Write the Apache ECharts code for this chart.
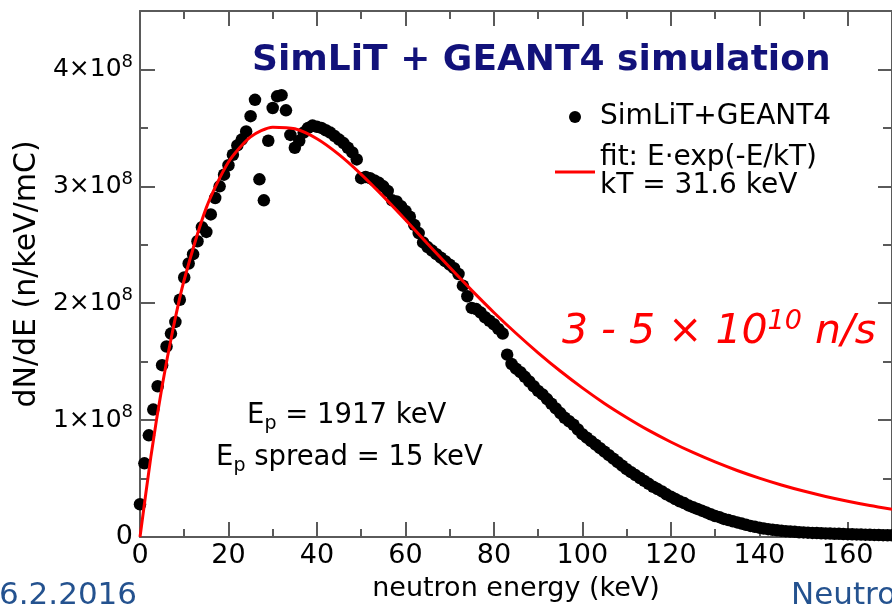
<!DOCTYPE html>
<html>
<head>
<meta charset="utf-8">
<script src="https://cdn.jsdelivr.net/npm/echarts@6/dist/echarts.min.js"></script>
<style>
  html, body { margin: 0; padding: 0; background: #fff; }
  #chart { width: 892px; height: 607px; }
</style>
</head>
<body>
<div id="chart"></div>
<script>
// Simulated neutron spectrum (1 keV bins), dN/dE in units of 10^8 n/keV/mC
const energy = [
  0, 1, 2, 3, 4, 5, 6, 7, 8, 9, 10, 11, 12, 13, 14, 15, 16, 17, 18, 19,
  20, 21, 22, 23, 24, 25, 26, 27, 28, 29, 30, 31, 32, 33, 34, 35, 36, 37, 38, 39,
  40, 41, 42, 43, 44, 45, 46, 47, 48, 49, 50, 51, 52, 53, 54, 55, 56, 57, 58, 59,
  60, 61, 62, 63, 64, 65, 66, 67, 68, 69, 70, 71, 72, 73, 74, 75, 76, 77, 78, 79,
  80, 81, 82, 83, 84, 85, 86, 87, 88, 89, 90, 91, 92, 93, 94, 95, 96, 97, 98, 99,
  100, 101, 102, 103, 104, 105, 106, 107, 108, 109, 110, 111, 112, 113, 114, 115, 116, 117, 118, 119,
  120, 121, 122, 123, 124, 125, 126, 127, 128, 129, 130, 131, 132, 133, 134, 135, 136, 137, 138, 139,
  140, 141, 142, 143, 144, 145, 146, 147, 148, 149, 150, 151, 152, 153, 154, 155, 156, 157, 158, 159,
  160, 161, 162, 163, 164, 165, 166, 167, 168, 169, 170
];
const counts = [
  0.28, 0.63, 0.87, 1.09, 1.29, 1.47, 1.63, 1.74, 1.84, 2.03, 2.22, 2.34, 2.42, 2.53, 2.65, 2.61, 2.76, 2.90, 3.00, 3.10,
  3.18, 3.27, 3.35, 3.40, 3.47, 3.60, 3.74, 3.06, 2.88, 3.39, 3.67, 3.77, 3.78, 3.65, 3.44, 3.33, 3.39, 3.46, 3.50, 3.52,
  3.51, 3.50, 3.48, 3.46, 3.43, 3.40, 3.37, 3.33, 3.29, 3.23, 3.07, 3.08, 3.07, 3.05, 3.03, 3.00, 2.96, 2.88, 2.87, 2.83,
  2.79, 2.74, 2.67, 2.60, 2.52, 2.48, 2.45, 2.42, 2.39, 2.36, 2.33, 2.30, 2.25, 2.15, 2.06, 1.96, 1.95, 1.92, 1.88, 1.85,
  1.82, 1.78, 1.74, 1.56, 1.48, 1.44, 1.41, 1.37, 1.33, 1.29, 1.25, 1.22, 1.18, 1.14, 1.10, 1.06, 1.02, 0.99, 0.96, 0.92,
  0.88, 0.85, 0.82, 0.79, 0.76, 0.73, 0.70, 0.67, 0.64, 0.61, 0.58, 0.555, 0.53, 0.505, 0.48, 0.455, 0.43, 0.41, 0.39, 0.365,
  0.345, 0.325, 0.305, 0.29, 0.27, 0.255, 0.24, 0.225, 0.21, 0.195, 0.18, 0.17, 0.155, 0.145, 0.135, 0.125, 0.115, 0.105, 0.095, 0.087,
  0.08, 0.073, 0.067, 0.062, 0.057, 0.053, 0.05, 0.047, 0.044, 0.041, 0.039, 0.037, 0.035, 0.034, 0.032, 0.031, 0.029, 0.028, 0.027, 0.025,
  0.024, 0.023, 0.022, 0.021, 0.02, 0.019, 0.018, 0.017, 0.016, 0.015, 0.014
];
// Maxwellian-like fit E*exp(-E/kT), kT = 31.6 keV, sampled along the curve
const fitEnergy = [0, 2.5, 5, 7.5, 10, 15, 20, 25, 30, 35, 40, 45, 50, 55, 60, 65, 70, 75, 80, 85,
  90, 95, 100, 105, 110, 115, 120, 125, 130, 135, 140, 145, 150, 155, 160, 165, 170];
const fitCounts = [0, 0.698, 1.289, 1.786, 2.201, 2.818, 3.208, 3.423, 3.506, 3.492, 3.407, 3.271, 3.103, 2.914, 2.714, 2.509, 2.307, 2.110, 1.921, 1.743,
  1.576, 1.420, 1.276, 1.143, 1.023, 0.912, 0.813, 0.723, 0.642, 0.569, 0.504, 0.445, 0.393, 0.347, 0.306, 0.269, 0.237];

const scatterName = 'SimLiT+GEANT4';
const fitName = 'fit: E·exp(-E/kT)\nkT = 31.6 keV';

const FONT = 'DejaVu Sans';
const FRAME = '#5a5a5a';

const chart = echarts.init(document.getElementById('chart'), null, { renderer: 'canvas' });

function xAx(position, interval, tickLen, withLine, withLabels) {
  return {
    type: 'value', position, min: 0, max: 170, interval,
    axisLine: { show: withLine, onZero: false, lineStyle: { color: FRAME, width: 2 } },
    axisTick: { show: true, inside: true, length: tickLen, lineStyle: { color: FRAME, width: 2 } },
    axisLabel: withLabels ? {
      show: true, showMaxLabel: false, margin: 5, color: '#000',
      fontFamily: FONT, fontSize: 27
    } : { show: false },
    splitLine: { show: false }
  };
}
function yAx(position, interval, tickLen, withLine, withLabels) {
  return {
    type: 'value', position, min: 0, max: 4.5, interval,
    axisLine: { show: withLine, onZero: false, lineStyle: { color: FRAME, width: 2 } },
    axisTick: { show: true, inside: true, length: tickLen, lineStyle: { color: FRAME, width: 2 } },
    axisLabel: withLabels ? {
      show: true, showMaxLabel: false, margin: 7, color: '#000',
      formatter: v => v === 0 ? '{z|0}' : '{m|' + v + '×10}{s|8}',
      rich: {
        z: { fontFamily: FONT, fontSize: 27, color: '#000' },
        m: { fontFamily: FONT, fontSize: 25, color: '#000' },
        s: { fontFamily: FONT, fontSize: 18, color: '#000', padding: [0, 0, 15, 0] }
      }
    } : { show: false },
    splitLine: { show: false }
  };
}

const xMain = xAx('bottom', 20, 15, true, true);
xMain.name = 'neutron energy (keV)';
xMain.nameLocation = 'middle';
xMain.nameGap = 38;
xMain.nameTextStyle = { fontFamily: FONT, fontSize: 27, color: '#000' };

const yMain = yAx('left', 1, 15, true, true);
yMain.name = 'dN/dE (n/keV/mC)';
yMain.nameLocation = 'middle';
yMain.nameGap = 95;
yMain.nameTextStyle = { fontFamily: FONT, fontSize: 30, color: '#000' };

const option = {
  backgroundColor: '#fff',
  animation: false,
  grid: { left: 140, right: -1, top: 11, bottom: 68, containLabel: false },
  title: {
    text: 'SimLiT + GEANT4 simulation',
    left: 247, top: 38,
    textStyle: { fontFamily: FONT, fontWeight: 'bold', fontSize: 36, color: '#12127a' }
  },
  legend: {
    orient: 'vertical', left: 555, top: 103, padding: 0,
    itemWidth: 40, itemHeight: 12, itemGap: 13,
    textStyle: { fontFamily: FONT, fontSize: 28, lineHeight: 28, color: '#000' },
    data: [
      { name: scatterName, icon: 'circle', itemStyle: { color: '#000', opacity: 1 } },
      { name: fitName, icon: 'path://M0,0 L40,0 L40,3 L0,3 Z', itemStyle: { color: '#ff0000' } }
    ]
  },
  xAxis: [
    xMain,
    xAx('bottom', 10, 8, false, false),
    xAx('top', 20, 15, true, false),
    xAx('top', 10, 8, false, false)
  ],
  yAxis: [
    yMain,
    yAx('left', 0.5, 8, false, false),
    yAx('right', 1, 14, true, false),
    yAx('right', 0.5, 9, false, false)
  ],
  series: [
    {
      name: scatterName, type: 'scatter',
      xAxisIndex: 0, yAxisIndex: 0,
      symbol: 'circle', symbolSize: 12.5,
      itemStyle: { color: '#000', opacity: 1 },
      data: energy.map((e, i) => [e, counts[i]]),
      z: 2
    },
    {
      name: fitName, type: 'line',
      xAxisIndex: 0, yAxisIndex: 0,
      symbol: 'none', smooth: 0.25,
      lineStyle: { color: '#ff0000', width: 3 },
      itemStyle: { color: '#ff0000' },
      data: fitEnergy.map((e, i) => [e, fitCounts[i]]),
      z: 3
    }
  ],
  graphic: [
    {
      type: 'text', left: 247, top: 402,
      style: {
        text: '{n|E}{b|p}{n| = 1917 keV}',
        rich: {
          n: { fontFamily: FONT, fontSize: 27.5, fill: '#000' },
          b: { fontFamily: FONT, fontSize: 19, fill: '#000', padding: [17, 0, 0, 0] }
        }
      }
    },
    {
      type: 'text', left: 216, top: 444,
      style: {
        text: '{n|E}{b|p}{n| spread = 15 keV}',
        rich: {
          n: { fontFamily: FONT, fontSize: 27.5, fill: '#000' },
          b: { fontFamily: FONT, fontSize: 19, fill: '#000', padding: [17, 0, 0, 0] }
        }
      }
    },
    {
      type: 'text', left: 562, top: 308,
      style: {
        text: '{a|3 - 5 × 10}{s|10}{a| n/s}',
        rich: {
          a: { fontFamily: FONT, fontStyle: 'italic', fontSize: 41, fill: '#ff0000' },
          s: { fontFamily: FONT, fontStyle: 'italic', fontSize: 27, fill: '#ff0000', padding: [0, 0, 22, 0] }
        }
      }
    },
    {
      type: 'text', left: -1, top: 580,
      style: { text: '6.2.2016', fontFamily: FONT, fontSize: 31, fill: '#24528f' }
    },
    {
      type: 'text', left: 791, top: 580,
      style: { text: 'Neutron', fontFamily: FONT, fontSize: 31, fill: '#24528f' }
    }
  ]
};

chart.setOption(option);
</script>
</body>
</html>
